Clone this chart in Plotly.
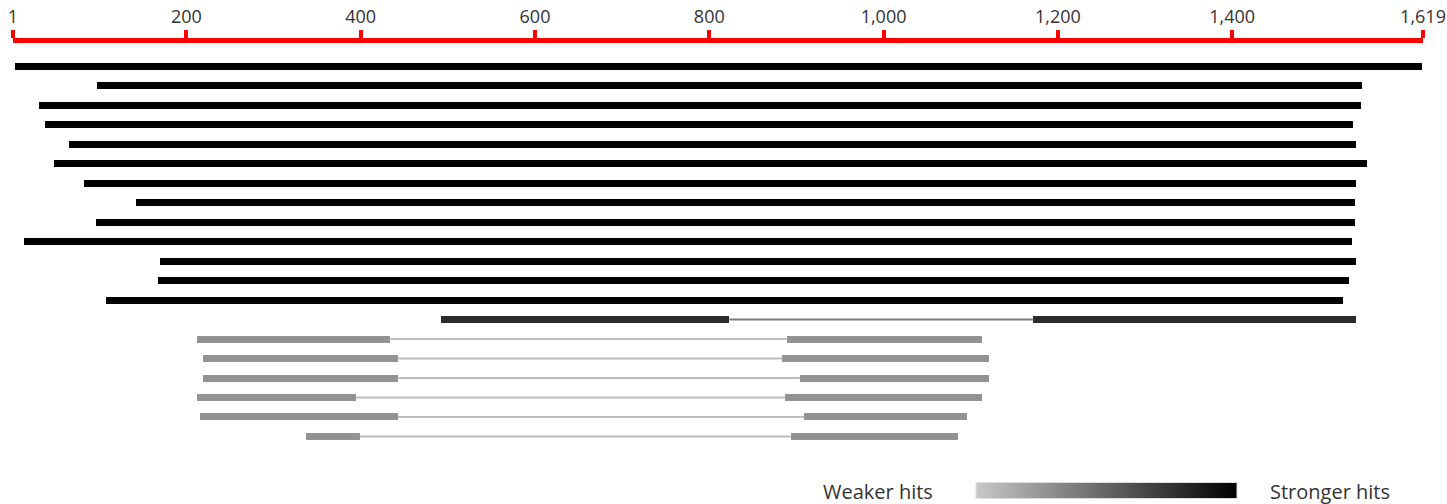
import plotly.graph_objects as go
from plotly.colors import sample_colorscale

# Query length and axis ticks
query_length = 1619
tick_values = [1, 200, 400, 600, 800, 1000, 1200, 1400, 1619]
tick_labels = ["1", "200", "400", "600", "800", "1,000", "1,200", "1,400", "1,619"]

# Aligned segments (one entry per HSP): hit row, query start, query end
seg_row = [0, 1, 2, 3, 4, 5, 6, 7, 8, 9, 10, 11, 12,
           13, 13,
           14, 14, 15, 15, 16, 16, 17, 17, 18, 18, 19, 19]
seg_start = [3, 97, 31, 38, 65, 48, 83, 142, 96, 14, 170, 167, 108,
             492, 1172,
             212, 889, 219, 884, 219, 904, 212, 887, 216, 909, 337, 894]
seg_end = [1618, 1549, 1548, 1539, 1542, 1555, 1542, 1541, 1541, 1538, 1542, 1534, 1527,
           823, 1542,
           434, 1113, 443, 1121, 443, 1121, 395, 1113, 443, 1096, 399, 1085]

# Relative hit strength per row (0 = weakest, 1 = strongest)
hit_strength = [1.0] * 13 + [0.78] + [0.265] * 6

strength_scale = [[0.0, "#c8c8c8"], [1.0, "#000000"]]
font_family = "Open Sans, Noto Sans, sans-serif"


def lighten(rgb_str, amount):
    vals = [int(float(v)) for v in rgb_str[rgb_str.index("(") + 1:-1].split(",")[:3]]
    vals = [round(v + (255 - v) * amount) for v in vals]
    return "rgb({},{},{})".format(*vals)


fig = go.Figure()

# Thin connectors across the gaps between segments of the same hit
rows = sorted(set(seg_row))
for r in rows:
    segs = sorted((s, e) for rr, s, e in zip(seg_row, seg_start, seg_end) if rr == r)
    if len(segs) < 2:
        continue
    xs, ys = [], []
    for (s0, e0), (s1, e1) in zip(segs[:-1], segs[1:]):
        xs += [e0, s1, None]
        ys += [r, r, None]
    base_col = sample_colorscale(strength_scale, [hit_strength[r]])[0]
    fig.add_trace(go.Scatter(
        x=xs, y=ys, mode="lines",
        line=dict(color=lighten(base_col, 0.38), width=2),
        hoverinfo="skip", showlegend=False,
    ))

legend_y = (504 - 491) / 461

# Aligned segments as horizontal bars, coloured by hit strength
fig.add_trace(go.Bar(
    orientation="h",
    y=seg_row,
    base=seg_start,
    x=[e - s for s, e in zip(seg_start, seg_end)],
    width=0.36,
    marker=dict(
        color=[hit_strength[r] for r in seg_row],
        colorscale=strength_scale,
        cmin=0, cmax=1,
        line=dict(width=0),
        showscale=True,
        colorbar=dict(
            orientation="h",
            x=1106.5 / 1447, xanchor="center",
            y=legend_y, yanchor="middle",
            len=261, lenmode="pixels",
            thickness=16,
            xpad=0, ypad=0,
            outlinewidth=1, outlinecolor="#dddddd",
            showticklabels=False, ticks="",
        ),
    ),
    hoverinfo="skip",
    showlegend=False,
))

fig.add_annotation(
    x=935 / 1447, y=legend_y, xref="paper", yref="paper",
    xanchor="right", yanchor="middle", showarrow=False,
    text="Weaker hits", font=dict(family=font_family, size=20, color="#333333"),
)
fig.add_annotation(
    x=1268 / 1447, y=legend_y, xref="paper", yref="paper",
    xanchor="left", yanchor="middle", showarrow=False,
    text="Stronger hits", font=dict(family=font_family, size=20, color="#333333"),
)

fig.update_layout(
    width=1447, height=504,
    margin=dict(l=0, r=0, t=43, b=0, autoexpand=False),
    paper_bgcolor="white", plot_bgcolor="white",
    bargap=0,
    xaxis=dict(
        domain=[13 / 1447, 1423 / 1447],
        range=[1, query_length],
        side="top",
        automargin=False,
        tickvals=tick_values, ticktext=tick_labels,
        showline=True, linecolor="#ff0000", linewidth=5,
        ticks="outside", ticklen=8, tickwidth=4, tickcolor="#ff0000",
        showgrid=False, zeroline=False,
        tickfont=dict(family=font_family, size=18, color="#333333"),
        fixedrange=True,
    ),
    yaxis=dict(
        range=[22.47, -1.205],
        visible=False, fixedrange=True,
    ),
)

fig.write_html("out.html", config={"displayModeBar": False})
